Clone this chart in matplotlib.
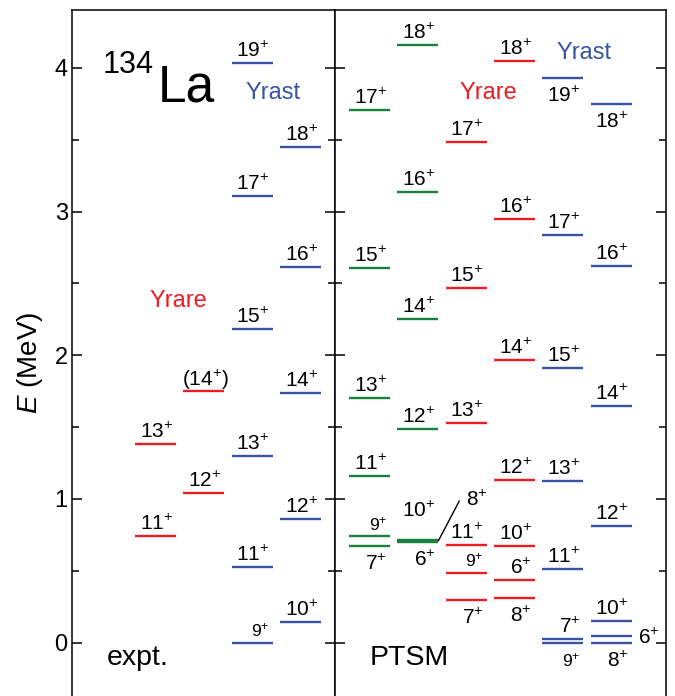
import matplotlib
matplotlib.use('Agg')
import matplotlib.pyplot as plt
from matplotlib.ticker import MultipleLocator

plt.rcParams['font.family'] = ['Liberation Sans', 'DejaVu Sans']
plt.rcParams['mathtext.fontset'] = 'custom'
plt.rcParams['mathtext.rm'] = 'Liberation Sans'
plt.rcParams['mathtext.it'] = 'Liberation Sans:italic'
plt.rcParams['mathtext.bf'] = 'Liberation Sans:bold'

RED = '#ec1c24'
BLUE = '#3953a4'
GREEN = '#17803d'

# ---- experimental levels (MeV), one list per column ----
expt_columns = [1, 2, 3, 4]
expt_colors = [RED, RED, BLUE, BLUE]
expt_spins = [
    [11, 13],
    [12, 14],
    [9, 11, 13, 15, 17, 19],
    [10, 12, 14, 16, 18],
]
expt_energy = [
    [0.742, 1.383],
    [1.040, 1.752],
    [0.000, 0.527, 1.302, 2.183, 3.108, 4.032],
    [0.144, 0.863, 1.738, 2.617, 3.452],
]
expt_tentative = [(2, 14)]

# ---- PTSM levels (MeV) ----
ptsm_columns = [0, 1, 2, 3, 4, 5]
ptsm_colors = [GREEN, GREEN, RED, RED, BLUE, BLUE]
ptsm_spins = [
    [7, 9, 11, 13, 15, 17],
    [6, 8, 10, 12, 14, 16, 18],
    [7, 9, 11, 13, 15, 17],
    [8, 6, 10, 12, 14, 16, 18],
    [9, 7, 11, 13, 15, 17, 19],
    [8, 6, 10, 12, 14, 16, 18],
]
ptsm_energy = [
    [0.675, 0.742, 1.158, 1.701, 2.608, 3.707],
    [0.702, 0.708, 0.714, 1.485, 2.250, 3.134, 4.157],
    [0.299, 0.487, 0.680, 1.529, 2.466, 3.482],
    [0.313, 0.436, 0.675, 1.132, 1.970, 2.946, 4.048],
    [0.000, 0.026, 0.511, 1.127, 1.909, 2.835, 3.932],
    [0.000, 0.045, 0.151, 0.810, 1.647, 2.619, 3.747],
]

# label placement for particular levels (column, spin)
label_below = {(0, 7), (1, 6), (2, 7), (3, 8), (4, 9), (4, 19), (5, 8), (5, 18)}
label_right = {(5, 6)}
label_high = {(1, 10)}
label_leader = {(1, 8)}

yticks = [0, 1, 2, 3, 4]
ylim = (-0.371, 4.403)

# horizontal layout of level columns (pixel-like units inside each panel)
X0, SP, W = 14.5, 48.3, 41.0
PX2PT = 0.72  # 1 px at 100 dpi in points

fig = plt.figure(figsize=(6.75, 6.96), dpi=100)
axh = 686 / 696
ax1 = fig.add_axes([72.3 / 675, 0, (334.5 - 72.3) / 675, axh])
ax2 = fig.add_axes([334.5 / 675, 0, (665.7 - 334.5) / 675, axh])
ax1.set_xlim(0, 334.5 - 72.3)
ax2.set_xlim(0, 665.7 - 334.5)

for ax in (ax1, ax2):
    ax.set_ylim(*ylim)
    ax.set_yticks(yticks)
    ax.yaxis.set_minor_locator(MultipleLocator(0.5))
    ax.set_xticks([])
    ax.spines['bottom'].set_visible(False)
    for s in ('left', 'right', 'top'):
        ax.spines[s].set_linewidth(1.1)
    ax.tick_params(axis='y', which='both', direction='in', left=True, right=True,
                   width=1.1, labelsize=17, pad=3.3)
    ax.tick_params(axis='y', which='major', length=7)
    ax.tick_params(axis='y', which='minor', length=5)
ax2.tick_params(axis='y', which='both', labelleft=False)


def spin_label(spin, tentative=False):
    s = f'{spin}$^{{+}}$'
    return f'({s})' if tentative else s


def draw_column(ax, col, color, spins, energies, tentative=()):
    x0 = X0 + col * SP
    x1 = x0 + W
    for spin, e in zip(spins, energies):
        ax.plot([x0, x1], [e, e], color=color, lw=1.7, solid_capstyle='butt')
        key = (col, spin)
        fs = 12.5 if spin == 9 else 15
        txt = spin_label(spin, key in tentative)
        if key in label_below:
            off, ha = (-3, -24), 'right'
        elif key in label_right:
            off, ha = (7, -8), 'left'
        elif key in label_high:
            off, ha = (-3, 23), 'right'
        elif key in label_leader:
            ax.annotate('', xy=(x1, e), xytext=(21 * PX2PT, 40 * PX2PT),
                        textcoords='offset points',
                        arrowprops=dict(arrowstyle='-', color='black', lw=1.0,
                                        shrinkA=0, shrinkB=0))
            off, ha = (28, 35), 'left'
        elif key in tentative:
            off, ha = (5, 5), 'right'
        else:
            off, ha = (-3, 6), 'right'
        ax.annotate(txt, xy=(x1, e), xytext=(off[0] * PX2PT, off[1] * PX2PT),
                    textcoords='offset points', ha=ha, va='baseline',
                    fontsize=fs, color='black')


for col, color, spins, energies in zip(expt_columns, expt_colors, expt_spins, expt_energy):
    draw_column(ax1, col, color, spins, energies, tentative=set(expt_tentative))
for col, color, spins, energies in zip(ptsm_columns, ptsm_colors, ptsm_spins, ptsm_energy):
    draw_column(ax2, col, color, spins, energies)

# panel annotations
ax1.text(30.7, 3.967, '134', fontsize=22, ha='left', va='baseline')
ax1.text(85.7, 3.765, 'La', fontsize=37, ha='left', va='baseline')
ax1.text(173.4, 3.781, 'Yrast', fontsize=17, color=BLUE, ha='left', va='baseline')
ax1.text(76.7, 2.338, 'Yrare', fontsize=17, color=RED, ha='left', va='baseline')
ax1.text(34.7, -0.155, 'expt.', fontsize=20.5, ha='left', va='baseline')

ax2.text(222.2, 4.064, 'Yrast', fontsize=17, color=BLUE, ha='left', va='baseline')
ax2.text(125.5, 3.781, 'Yrare', fontsize=17, color=RED, ha='left', va='baseline')
ax2.text(35.5, -0.155, 'PTSM', fontsize=20.5, ha='left', va='baseline')

fig.text(30 / 675, 1 - 362.5 / 696, '$E$ (MeV)', rotation=90, fontsize=20,
         ha='center', va='center')

fig.savefig('out.png', dpi=100)
